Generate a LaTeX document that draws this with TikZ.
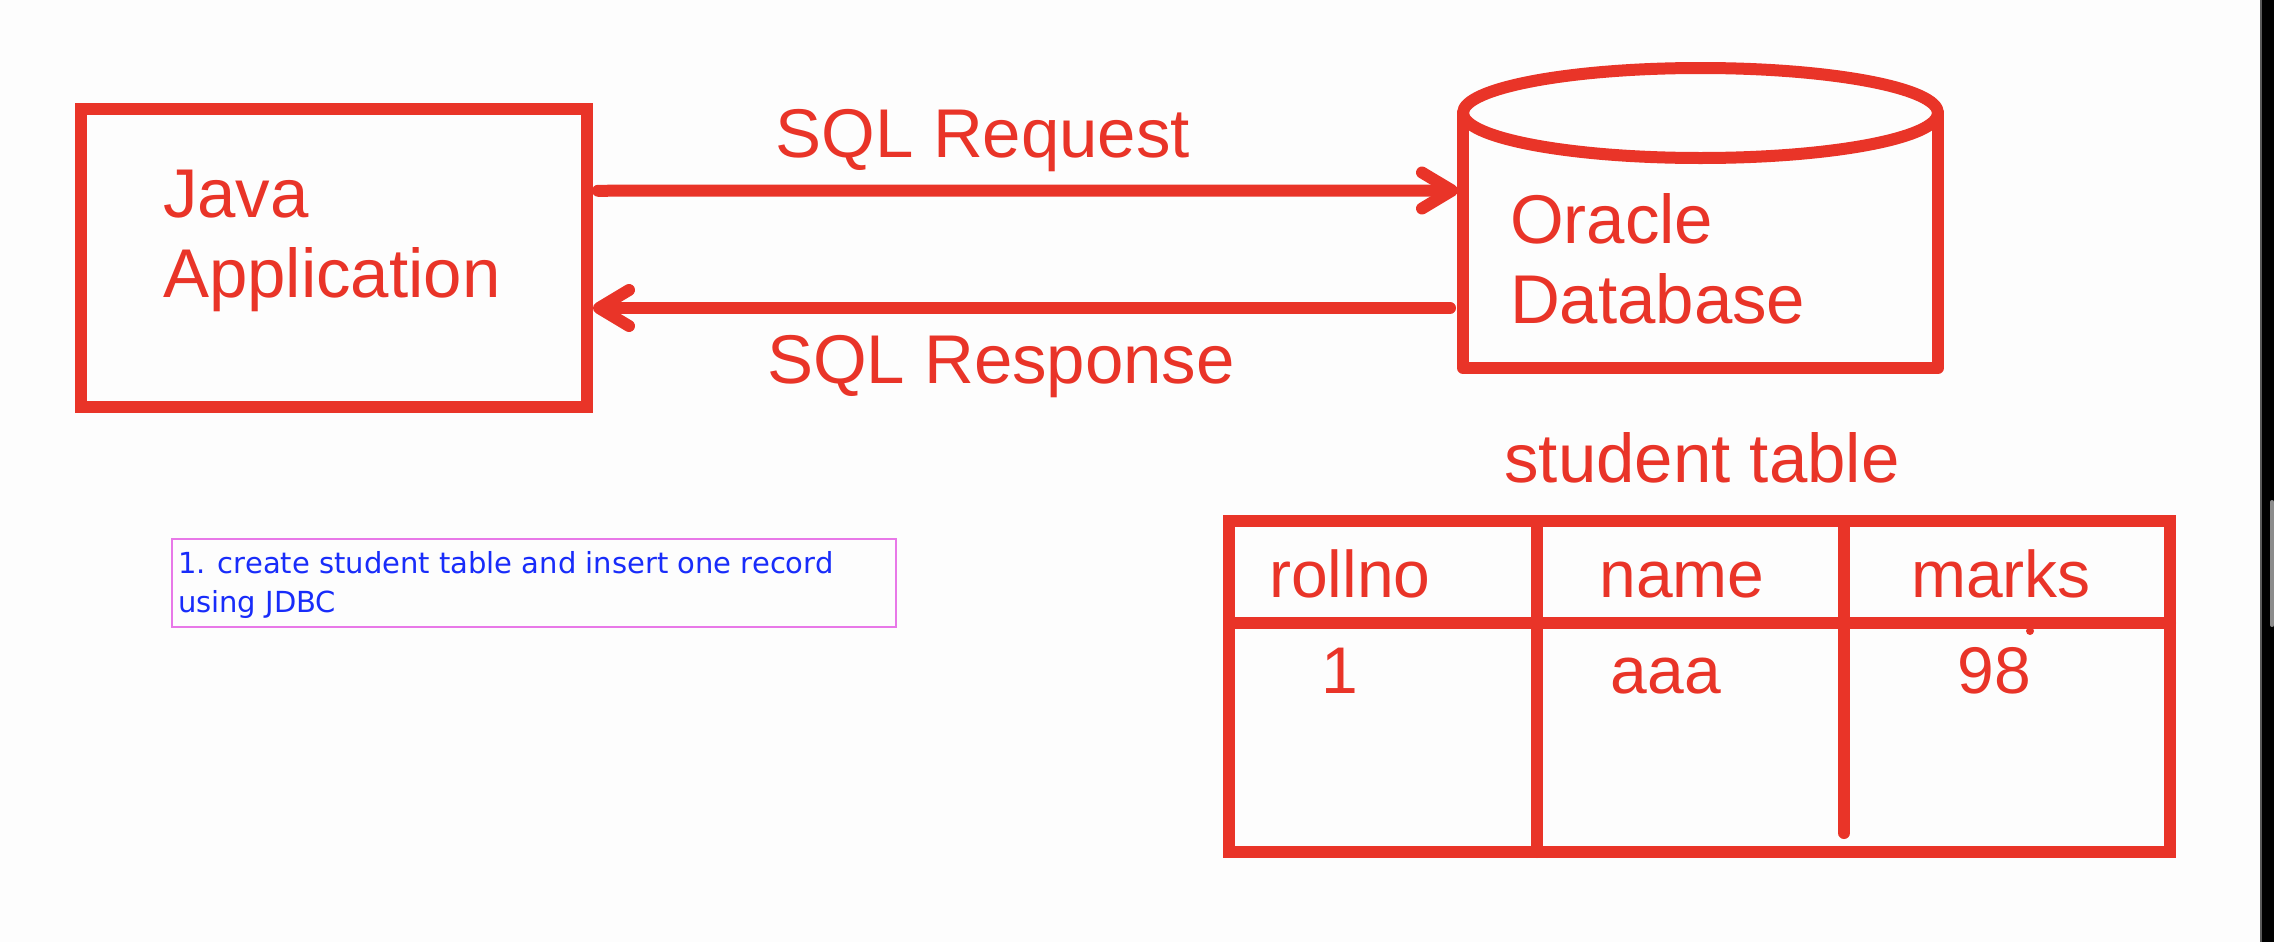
\documentclass[tikz,border=0pt]{standalone}
\usepackage{fontspec}
\setmainfont{Liberation Sans}
\newfontfamily\notefont{DejaVu Sans}
\usetikzlibrary{arrows.meta,calc}
\definecolor{dred}{RGB}{233,52,40}
\definecolor{nblue}{RGB}{24,44,250}
\definecolor{nmag}{RGB}{232,120,232}
\definecolor{bgc}{RGB}{253,253,253}
\definecolor{sbgray}{RGB}{140,140,140}
\definecolor{sbline}{RGB}{90,90,90}
\begin{document}
\begin{tikzpicture}[x=0.5pt,y=-0.5pt,
  redline/.style={draw=dred, line width=6pt, line cap=round, line join=round},
  big/.style={text=dred, font=\fontsize{34.5}{40}\selectfont, inner sep=0pt, outer sep=0pt},
  tab/.style={text=dred, font=\fontsize{33}{40}\selectfont, inner sep=0pt, outer sep=0pt},
  conn/.style={draw=dred, line width=6pt, line cap=round, -{Straight Barb[length=15pt,width=18pt,round]}},
  boxed/.style={draw=dred, line width=6pt, inner sep=0pt, outer sep=0pt},
  notetext/.style={anchor=base west, text=nblue, font=\notefont\fontsize{14.5}{20}\selectfont, inner sep=0pt, outer sep=0pt}
  ]
\fill[bgc] (0,0) rectangle (2274,942);
\useasboundingbox (0,0) rectangle (2274,942);

% Java application box
\node[boxed, minimum width=253.25pt, minimum height=149.25pt] (java) at (333.75,257.75) {};
\node[big, anchor=base west] (java1) at (163,217) {Java};
\node[big, anchor=base west] (java2) at (163,297) {Application};

% Oracle database cylinder
\node[minimum width=237.5pt, minimum height=127.5pt, inner sep=0pt, outer sep=0pt] (db) at (1700.5,240.5) {};
\draw[redline] (db.north west) -- (db.south west) -- (db.south east) -- (db.north east);
\draw[redline] (db.north) ellipse [x radius=118.75pt, y radius=22.5pt];
\node[big, anchor=base west] (db1) at (1510,243) {Oracle};
\node[big, anchor=base west] (db2) at (1510,323) {Database};

% connectors
\draw[conn] ($(java.east)+(11,-67)$) -- ($(db.west)+(-5,-50)$);
\draw[conn] ($(db.west)+(-13,67.5)$) -- ($(java.east)+(6,50.25)$);
\node[big, anchor=base] (req) at (983,157) {SQL Request};
\node[big, anchor=base] (resp) at (1001,383) {SQL Response};

% note
\node[draw=nmag, line width=0.75pt, minimum width=362pt, minimum height=44pt, inner sep=0pt, outer sep=0pt] (note) at (534,583) {};
\node[notetext] (n1) at (178,573) {1. create student table and insert one record};
\node[notetext] (n2) at (178,612) {using JDBC};

% student table
\node[big, anchor=base] (ttl) at (1702,482) {student table};
\node[boxed, minimum width=470.5pt, minimum height=165.5pt] (tbl) at (1699.5,686.5) {};
\coordinate (hl) at ($(tbl.north west)+(0,101.5)$);
\coordinate (hr) at ($(tbl.north east)+(0,101.5)$);
\draw[redline] (hl) -- (hr);
\coordinate (v1t) at ($(tbl.north west)+(308,0)$);
\coordinate (v1b) at ($(tbl.south west)+(308,0)$);
\draw[redline] (v1t) -- (v1b);
\coordinate (v2t) at ($(tbl.north west)+(615,0)$);
\coordinate (v2b) at ($(tbl.north west)+(615,312)$);
\draw[redline] (v2t) -- (v2b);
\node[tab, anchor=base] (c1) at (1350,597) {rollno};
\node[tab, anchor=base] (c2) at (1682,597) {name};
\node[tab, anchor=base] (c3) at (2001,597) {marks};
\node[tab, anchor=base] (r1) at (1340,693) {1};
\node[tab, anchor=base] (r2) at (1666,693) {aaa};
\node[tab, anchor=base] (r3) at (1994,693) {98};
\fill[dred] (2030,631) circle[radius=2pt];

% right edge strip
\fill[sbline] (2260,0) rectangle (2262,942);
\fill[black] (2262,0) rectangle (2274,942);
\fill[sbgray, rounded corners=1pt] (2270,500) rectangle (2274,627);
\end{tikzpicture}
\end{document}
